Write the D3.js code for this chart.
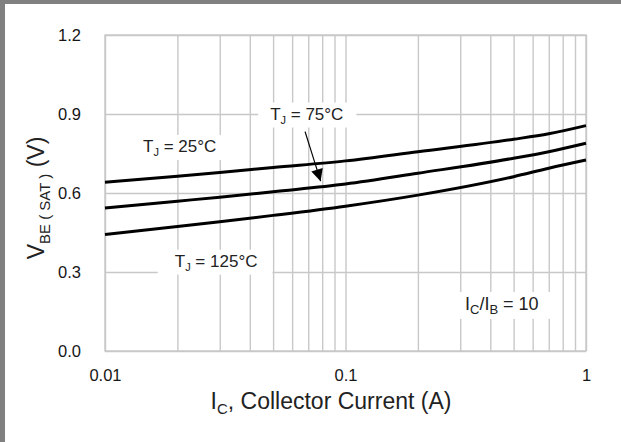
<!DOCTYPE html>
<html>
<head>
<meta charset="utf-8">
<script src="https://cdn.jsdelivr.net/npm/d3@7"></script>
<style>
  body { margin: 0; background: #fff; }
  svg { display: block; font-family: "Liberation Sans", Arial, sans-serif; }
  .tick text { fill: #161616; }
</style>
</head>
<body>
<svg width="621" height="442"></svg>
<script>
// collector current (A), log axis
const current = [0.01, 0.02, 0.03, 0.05, 0.1, 0.2, 0.5, 0.7, 1];

// VBE(sat) per junction temperature
const vbe25 = [0.641, 0.664, 0.678, 0.697, 0.722, 0.757, 0.804, 0.825, 0.856];
const vbe75 = [0.543, 0.569, 0.584, 0.605, 0.634, 0.675, 0.732, 0.757, 0.789];
const vbe125 = [0.442, 0.473, 0.491, 0.515, 0.550, 0.592, 0.662, 0.694, 0.725];

const xTickLabels = [0.01, 0.1, 1];
const yTicks = [0, 0.3, 0.6, 0.9, 1.2];
const xGrid = [0.01, 0.02, 0.03, 0.04, 0.05, 0.06, 0.07, 0.08, 0.09,
               0.1, 0.2, 0.3, 0.4, 0.5, 0.6, 0.7, 0.8, 0.9, 1];

// annotation anchors in data units (start of text, baseline)
const notes = [
  { x: 0.0144, y: 0.756, main: "T", sub: "J", rest: " = 25°C", size: 17, subSize: 11, padL: 8, padR: 8 },
  { x: 0.0486, y: 0.879, main: "T", sub: "J", rest: " = 75°C", size: 17, subSize: 11, padL: 12, padR: 13 },
  { x: 0.0195, y: 0.320, main: "T", sub: "J", rest: " = 125°C", size: 17, subSize: 11, padL: 17, padR: 15 },
  { x: 0.314, y: 0.156, main: "I", sub: "C", rest: "/I", sub2: "B", rest2: " = 10", size: 18, subSize: 13, padL: 10, padR: 15 }
];
// arrow for the 75°C label
const arrow = { from: [0.0679, 0.833], to: [0.0788, 0.645] };

const svg = d3.select("svg");
const width = +svg.attr("width");
const height = +svg.attr("height");

const margin = { top: 35, right: 35, bottom: 91, left: 105 };
const innerWidth = width - margin.left - margin.right;
const innerHeight = height - margin.top - margin.bottom;

// frame on the top and left
svg.append("rect").attr("x", 0).attr("y", 0).attr("width", width).attr("height", 4).attr("fill", "#808080");
svg.append("rect").attr("x", 0).attr("y", 0).attr("width", 5).attr("height", height).attr("fill", "#808080");

const xScale = d3.scaleLog().domain([0.01, 1]).range([0, innerWidth]);
const yScale = d3.scaleLinear().domain([0, 1.2]).range([innerHeight, 0]);

const g = svg.append("g").attr("transform", `translate(${margin.left},${margin.top})`);

// grid lines
const gridColor = "#c8c8c8";
const xGridG = g.append("g")
  .attr("transform", `translate(0,${innerHeight})`)
  .call(d3.axisBottom(xScale).tickValues(xGrid).tickSize(-innerHeight).tickFormat(""));
xGridG.select(".domain").remove();
xGridG.selectAll("line").attr("stroke", gridColor).attr("stroke-width", 1.4);

const yAxisG = g.append("g")
  .call(d3.axisLeft(yScale).tickValues(yTicks).tickSize(-innerWidth).tickPadding(24).tickFormat(d3.format(".1f")));
yAxisG.select(".domain").remove();
yAxisG.selectAll("line").attr("stroke", gridColor).attr("stroke-width", 1.4);
yAxisG.selectAll("text").attr("font-size", 16.5);

// outline of plot
g.append("rect").attr("width", innerWidth).attr("height", innerHeight)
  .attr("fill", "none").attr("stroke", gridColor).attr("stroke-width", 1.4);

// x tick labels
const xAxisG = g.append("g")
  .attr("transform", `translate(0,${innerHeight})`)
  .call(d3.axisBottom(xScale).tickValues(xTickLabels).tickSize(0).tickPadding(18).tickFormat(d => String(d)));
xAxisG.select(".domain").remove();
xAxisG.selectAll("text").attr("font-size", 16.5);

// annotation boxes + text
const noteLayer = g.append("g");
notes.forEach(n => {
  const ng = noteLayer.append("g");
  const box = ng.append("rect").attr("fill", "#fff");
  const t = ng.append("text")
    .attr("x", xScale(n.x)).attr("y", yScale(n.y))
    .attr("font-size", n.size).attr("fill", "#222");
  t.append("tspan").text(n.main);
  t.append("tspan").attr("font-size", n.subSize).attr("dy", 4).text(n.sub);
  t.append("tspan").attr("dy", -4).text(n.rest);
  if (n.sub2) {
    t.append("tspan").attr("font-size", n.subSize).attr("dy", 4).text(n.sub2);
    t.append("tspan").attr("dy", -4).text(n.rest2);
  }
  const b = t.node().getBBox();
  box.attr("x", b.x - n.padL).attr("y", b.y - 2)
    .attr("width", b.width + n.padL + n.padR).attr("height", b.height + 4);
});

// curves
const line = d3.line()
  .x(d => xScale(d[0]))
  .y(d => yScale(d[1]))
  .curve(d3.curveMonotoneX);

[vbe25, vbe75, vbe125].forEach(series => {
  g.append("path")
    .datum(current.map((c, i) => [c, series[i]]))
    .attr("d", line)
    .attr("fill", "none")
    .attr("stroke", "#000")
    .attr("stroke-width", 3);
});

// arrow
svg.append("defs").append("marker")
  .attr("id", "head").attr("viewBox", "0 0 10 10")
  .attr("refX", 10).attr("refY", 5)
  .attr("markerWidth", 15).attr("markerHeight", 12)
  .attr("markerUnits", "userSpaceOnUse")
  .attr("orient", "auto")
  .append("path").attr("d", "M0,0 L10,5 L0,10 z").attr("fill", "#000");

g.append("line")
  .attr("x1", xScale(arrow.from[0])).attr("y1", yScale(arrow.from[1]))
  .attr("x2", xScale(arrow.to[0])).attr("y2", yScale(arrow.to[1]))
  .attr("stroke", "#000").attr("stroke-width", 1.2)
  .attr("marker-end", "url(#head)");

// axis titles
const xTitle = svg.append("text")
  .attr("x", 331).attr("y", 409)
  .attr("text-anchor", "middle").attr("font-size", 23).attr("fill", "#222");
xTitle.append("tspan").text("I");
xTitle.append("tspan").attr("font-size", 15).attr("dy", 5).text("C");
xTitle.append("tspan").attr("dy", -5).text(", Collector Current (A)");

const yTitle = svg.append("text")
  .attr("transform", "translate(44,198) rotate(-90)")
  .attr("text-anchor", "middle").attr("font-size", 23).attr("fill", "#222");
yTitle.append("tspan").text("V");
yTitle.append("tspan").attr("font-size", 15).attr("dy", 6).text("BE ( SAT )");
yTitle.append("tspan").attr("dy", -6).text("   (V)");
</script>
</body>
</html>
